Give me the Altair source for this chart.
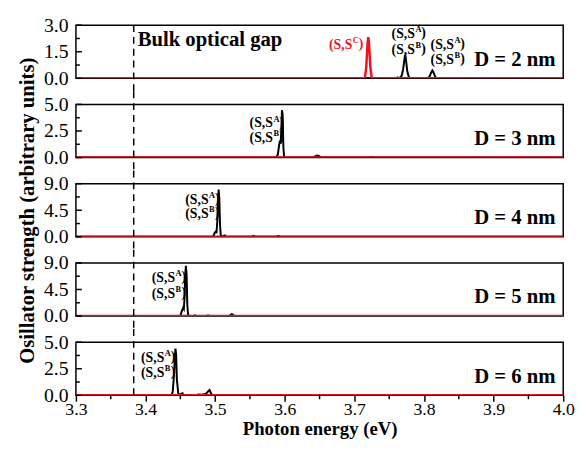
import altair as alt
import pandas as pd

# ---------------- data ----------------
sizes = ["D = 2 nm", "D = 3 nm", "D = 4 nm", "D = 5 nm", "D = 6 nm"]
y_max = [3.0, 5.0, 9.0, 9.0, 5.0]
y_major = [[0.0, 1.5, 3.0], [0.0, 2.5, 5.0], [0.0, 4.5, 9.0], [0.0, 4.5, 9.0], [0.0, 2.5, 5.0]]
y_minor = [[0.75, 2.25], [1.25, 3.75], [2.25, 6.75], [2.25, 6.75], [1.25, 3.75]]
x_major = [3.3, 3.4, 3.5, 3.6, 3.7, 3.8, 3.9, 4.0]
x_minor = [3.35, 3.45, 3.55, 3.65, 3.75, 3.85, 3.95]
bulk_gap = 3.383

black_e = [
    [3.30, 3.760, 3.762, 3.764, 3.766, 3.768, 3.770, 3.772, 3.773, 3.774, 3.776, 3.778, 3.780,
     3.805, 3.808, 3.810, 3.812, 3.814, 3.816, 3.818, 4.00],
    [3.30, 3.588, 3.590, 3.592, 3.593, 3.594, 3.595, 3.596, 3.597, 3.598, 3.599, 3.601,
     3.640, 3.643, 3.646, 3.649, 3.652, 3.720, 3.724, 3.728, 4.00],
    [3.30, 3.497, 3.499, 3.501, 3.502, 3.503, 3.504, 3.505, 3.506, 3.507, 3.508, 3.510,
     3.512, 3.514, 3.516, 3.552, 3.555, 3.558, 3.588, 3.591, 3.594, 4.00],
    [3.30, 3.450, 3.452, 3.454, 3.455, 3.456, 3.457, 3.458, 3.459, 3.460, 3.461, 3.463,
     3.468, 3.471, 3.474, 3.487, 3.490, 3.493, 3.520, 3.522, 3.524, 3.526, 3.528, 4.00],
    [3.30, 3.437, 3.439, 3.441, 3.442, 3.443, 3.444, 3.445, 3.447, 3.449, 3.451, 3.453, 3.455,
     3.472, 3.476, 3.480, 3.484, 3.487, 3.489, 3.491, 3.492, 3.494, 3.496, 4.00],
]
black_f = [
    [0, 0, 0.05, 0, 0.05, 0.15, 0.5, 1.1, 1.33, 1.1, 0.4, 0.1, 0,
     0, 0.1, 0.3, 0.44, 0.3, 0.1, 0, 0],
    [0, 0, 0.3, 1.2, 1.6, 1.3, 2.5, 4.45, 4.0, 1.0, 0.1, 0,
     0, 0.1, 0.2, 0.15, 0, 0, 0.05, 0, 0],
    [0, 0, 0.6, 0.9, 0.8, 2.5, 6.0, 8.0, 6.5, 2.0, 0.3, 0,
     0.15, 0.25, 0, 0, 0.15, 0, 0, 0.15, 0, 0],
    [0, 0, 0.8, 1.4, 1.2, 3.0, 7.0, 8.5, 7.0, 2.0, 0.3, 0,
     0, 0.12, 0, 0, 0.1, 0, 0, 0.15, 0.35, 0.15, 0, 0],
    [0, 0, 0.3, 2.0, 3.5, 4.4, 3.8, 1.5, 0.2, 0, 0.15, 0.2, 0,
     0, 0.08, 0.05, 0.1, 0.15, 0.3, 0.45, 0.5, 0.2, 0, 0],
]
red_e = [
    [3.30, 3.715, 3.717, 3.719, 3.720, 3.721, 3.723, 3.725, 4.00],
    [3.30, 4.00], [3.30, 4.00], [3.30, 4.00], [3.30, 4.00],
]
red_f = [
    [0, 0, 0.6, 2.0, 2.33, 2.0, 0.6, 0, 0],
    [0, 0], [0, 0], [0, 0], [0, 0],
]

# labels: energy where "(S,S" ends, value of its centre, superscript letter, colour
label_panel = [0, 0, 0, 0, 0, 1, 1, 2, 2, 3, 3, 4, 4]
label_e = [3.697, 3.787, 3.787, 3.843, 3.843, 3.583, 3.583, 3.4905, 3.4905, 3.4424, 3.4424, 3.427, 3.427]
label_f = [1.9, 2.5, 1.6, 1.9, 1.05, 3.2, 1.8, 6.3, 3.8, 6.4, 3.8, 3.5, 2.06]
label_sup = ["C", "A", "B", "A", "B", "A", "B", "A", "B", "A", "B", "A", "B"]
label_col = ["#f2101c"] + ["black"] * 12

# ---------------- chart ----------------
W, H = 495, 54
GAP = 26.5
FONT = "Liberation Serif, DejaVu Serif, serif"
RED = "#f2101c"


def enc_x(i):
    if i == 4:
        ax = alt.Axis(values=x_major, format=".1f", tickSize=6, tickWidth=1.5, tickColor="black",
                      labelFontSize=18, labelPadding=0, labelFlush=False, domain=False, grid=False,
                      title="Photon energy (eV)", titleFontSize=19, titlePadding=1)
    else:
        ax = None
    return alt.X("e:Q", scale=alt.Scale(domain=[3.3, 4.0], nice=False, zero=False), axis=ax)


def enc_y(i):
    ax = alt.Axis(values=y_major[i], format=".1f", ticks=False, domain=False, grid=False,
                  labelFontSize=20, labelPadding=8, labelOverlap=False,
                  title="Osillator strength (arbitrary units)" if i == 2 else None,
                  titleFontSize=21, titlePadding=6)
    return alt.Y("f:Q", scale=alt.Scale(domain=[0, y_max[i]], nice=False), axis=ax)


panels = []
for i in range(5):
    dfb = pd.DataFrame({"e": black_e[i], "f": black_f[i]})
    dfr = pd.DataFrame({"e": red_e[i], "f": red_f[i]})
    x, y = enc_x(i), enc_y(i)
    layers = []
    layers.append(alt.Chart(dfb).mark_line(color="black", strokeWidth=2, clip=True).encode(x=x, y=y))
    layers.append(alt.Chart(dfr).mark_line(color=RED, strokeWidth=2.5, clip=True).encode(x=x, y=y))

    # dashed bulk-gap line, extended into the gaps between panels
    y0 = 0 if i == 0 else -GAP / 2
    y1 = H if i == 4 else H + GAP / 2
    layers.append(
        alt.Chart(pd.DataFrame({"e": [bulk_gap]}))
        .mark_rule(color="black", strokeWidth=1.5, strokeDash=[7, 5])
        .encode(x=x, y=alt.value(y0), y2=alt.value(y1))
    )
    # inward y ticks
    layers.append(
        alt.Chart(pd.DataFrame({"f": y_major[i]}))
        .mark_rule(color="black", strokeWidth=1.5)
        .encode(y=y, x=alt.value(0), x2=alt.value(6))
    )
    layers.append(
        alt.Chart(pd.DataFrame({"f": y_minor[i]}))
        .mark_rule(color="black", strokeWidth=1.5)
        .encode(y=y, x=alt.value(0), x2=alt.value(4))
    )
    if i == 4:
        layers.append(
            alt.Chart(pd.DataFrame({"e": x_minor}))
            .mark_rule(color="black", strokeWidth=1.5)
            .encode(x=x, y=alt.value(H), y2=alt.value(H + 4))
        )
    # panel size label
    layers.append(
        alt.Chart(pd.DataFrame({"t": [sizes[i]]}))
        .mark_text(align="right", baseline="middle", font=FONT, fontSize=21, fontWeight="bold", color="black")
        .encode(text="t:N", x=alt.value(W - 8), y=alt.value(35))
    )
    if i == 0:
        layers.append(
            alt.Chart(pd.DataFrame({"e": [bulk_gap], "t": ["Bulk optical gap"]}))
            .mark_text(align="left", baseline="middle", dx=4, font=FONT, fontSize=21, fontWeight="bold", color="black")
            .encode(x=x, text="t:N", y=alt.value(15))
        )
    # peak labels
    idx = [k for k, p in enumerate(label_panel) if p == i]
    dfl = pd.DataFrame({
        "e": [label_e[k] for k in idx],
        "f": [label_f[k] for k in idx],
        "sup": [label_sup[k] for k in idx],
        "col": [label_col[k] for k in idx],
    })
    col = alt.Color("col:N", scale=None)
    layers.append(
        alt.Chart(dfl).mark_text(align="right", baseline="middle", font=FONT, fontSize=14, fontWeight="bold", text="(S,S")
        .encode(x=x, y=y, color=col)
    )
    layers.append(
        alt.Chart(dfl).mark_text(align="left", baseline="middle", dx=0.5, dy=-5, font=FONT, fontSize=8.5, fontWeight="bold")
        .encode(x=x, y=y, text="sup:N", color=col)
    )
    layers.append(
        alt.Chart(dfl).mark_text(align="left", baseline="middle", dx=6.5, dy=-1, font=FONT, fontSize=14, fontWeight="bold", text=")")
        .encode(x=x, y=y, color=col)
    )
    panels.append(alt.layer(*layers).properties(width=W, height=H))

chart = (
    alt.vconcat(*panels, spacing=GAP, bounds="flush")
    .properties(padding={"left": 8, "top": 3, "right": 2, "bottom": 0})
    .configure_view(stroke="black", strokeWidth=1.5)
    .configure_axis(labelFont=FONT, titleFont=FONT, labelColor="black", titleColor="black",
                    titleFontWeight="bold")
    .configure_text(font=FONT)
)

chart.save("out.html", embed_options={"renderer": "svg", "actions": False})
